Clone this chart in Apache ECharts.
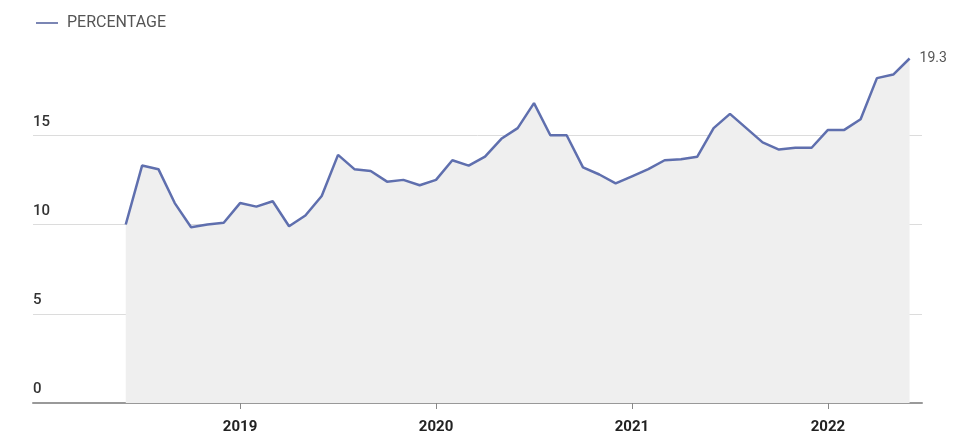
<!DOCTYPE html>
<html>
<head>
<meta charset="utf-8">
<script src="https://cdn.jsdelivr.net/npm/echarts@6/dist/echarts.min.js"></script>
<style>
html,body{margin:0;padding:0;background:#fff;}
#chart{width:966px;height:444px;}
</style>
</head>
<body>
<div id="chart"></div>
<script>
// Months (Jun 2018 - Jun 2022)
var months = [
  '2018-06','2018-07','2018-08','2018-09','2018-10','2018-11','2018-12',
  '2019-01','2019-02','2019-03','2019-04','2019-05','2019-06','2019-07','2019-08','2019-09','2019-10','2019-11','2019-12',
  '2020-01','2020-02','2020-03','2020-04','2020-05','2020-06','2020-07','2020-08','2020-09','2020-10','2020-11','2020-12',
  '2021-01','2021-02','2021-03','2021-04','2021-05','2021-06','2021-07','2021-08','2021-09','2021-10','2021-11','2021-12',
  '2022-01','2022-02','2022-03','2022-04','2022-05','2022-06'
];
var percentage = [
  10.0, 13.3, 13.1, 11.2, 9.85, 10.0, 10.1,
  11.2, 11.0, 11.3, 9.9, 10.5, 11.6, 13.9, 13.1, 13.0, 12.4, 12.5, 12.2,
  12.5, 13.6, 13.3, 13.8, 14.8, 15.4, 16.8, 15.0, 15.0, 13.2, 12.8, 12.3,
  12.7, 13.1, 13.6, 13.65, 13.8, 15.4, 16.2, 15.4, 14.6, 14.2, 14.3, 14.3,
  15.3, 15.3, 15.9, 18.2, 18.4, 19.3
];
var yearTicks = ['2019','2020','2021','2022'];
var yTicks = [0, 5, 10, 15];
var seriesName = 'PERCENTAGE';

var baseYear = 2018;
function monthIndex(s){
  var p = s.split('-');
  return (parseInt(p[0],10) - baseYear) * 12 + (parseInt(p[1],10) - 1);
}
var seriesData = months.map(function(m, i){ return [monthIndex(m), percentage[i]]; });
var yearTickValues = yearTicks.map(function(y){ return monthIndex(y + '-01'); });

var font = 'Roboto, "Liberation Sans", sans-serif';
var chart = echarts.init(document.getElementById('chart'), null, {renderer:'canvas'});
chart.setOption({
  animation: false,
  backgroundColor: '#fff',
  textStyle: {fontFamily: font},
  legend: {
    left: 31, top: 10,
    icon: 'rect', itemWidth: 22, itemHeight: 2,
    itemStyle: {color: '#7b86b4'},
    textStyle: {color: '#555', fontSize: 16, fontFamily: font, padding: [0,0,0,4]},
    data: [seriesName]
  },
  grid: {left: 33, right: 44, top: 46, bottom: 41, containLabel: false},
  xAxis: {
    type: 'value',
    min: -0.68, max: 53.76,
    axisLine: {show: true, lineStyle: {color: '#999', width: 2}},
    axisTick: {show: true, customValues: yearTickValues, length: 6, lineStyle: {color: '#888', width: 1}},
    axisLabel: {
      customValues: yearTickValues,
      margin: 17,
      color: '#222', fontSize: 15, fontWeight: 'bold', fontFamily: font,
      formatter: function(v){ return String(baseYear + Math.round(v / 12)); }
    },
    splitLine: {show: false}
  },
  yAxis: {
    type: 'value',
    min: 0, max: 20, interval: 5,
    axisLine: {show: false},
    axisTick: {show: false},
    axisLabel: {
      inside: true, margin: 0,
      verticalAlign: 'bottom', align: 'left',
      padding: [0,0,6,0],
      color: '#333', fontSize: 15, fontWeight: 500, fontFamily: font,
      showMaxLabel: false,
      formatter: function(v){ return yTicks.indexOf(v) >= 0 ? String(v) : ''; }
    },
    splitLine: {show: true, showMaxLine: false, showMinLine: false, lineStyle: {color: '#dcdcdc', width: 1}}
  },
  series: [{
    name: seriesName,
    type: 'line',
    data: seriesData,
    showSymbol: false,
    symbol: 'none',
    lineStyle: {color: '#5f6fae', width: 2.5},
    itemStyle: {color: '#5f6fae'},
    areaStyle: {color: '#efefef', opacity: 1},
    endLabel: {
      show: true, distance: 10,
      color: '#555', fontSize: 14, fontFamily: font,
      formatter: function(p){ return String(p.value[1]); }
    },
    z: 3
  }]
});
</script>
</body>
</html>
